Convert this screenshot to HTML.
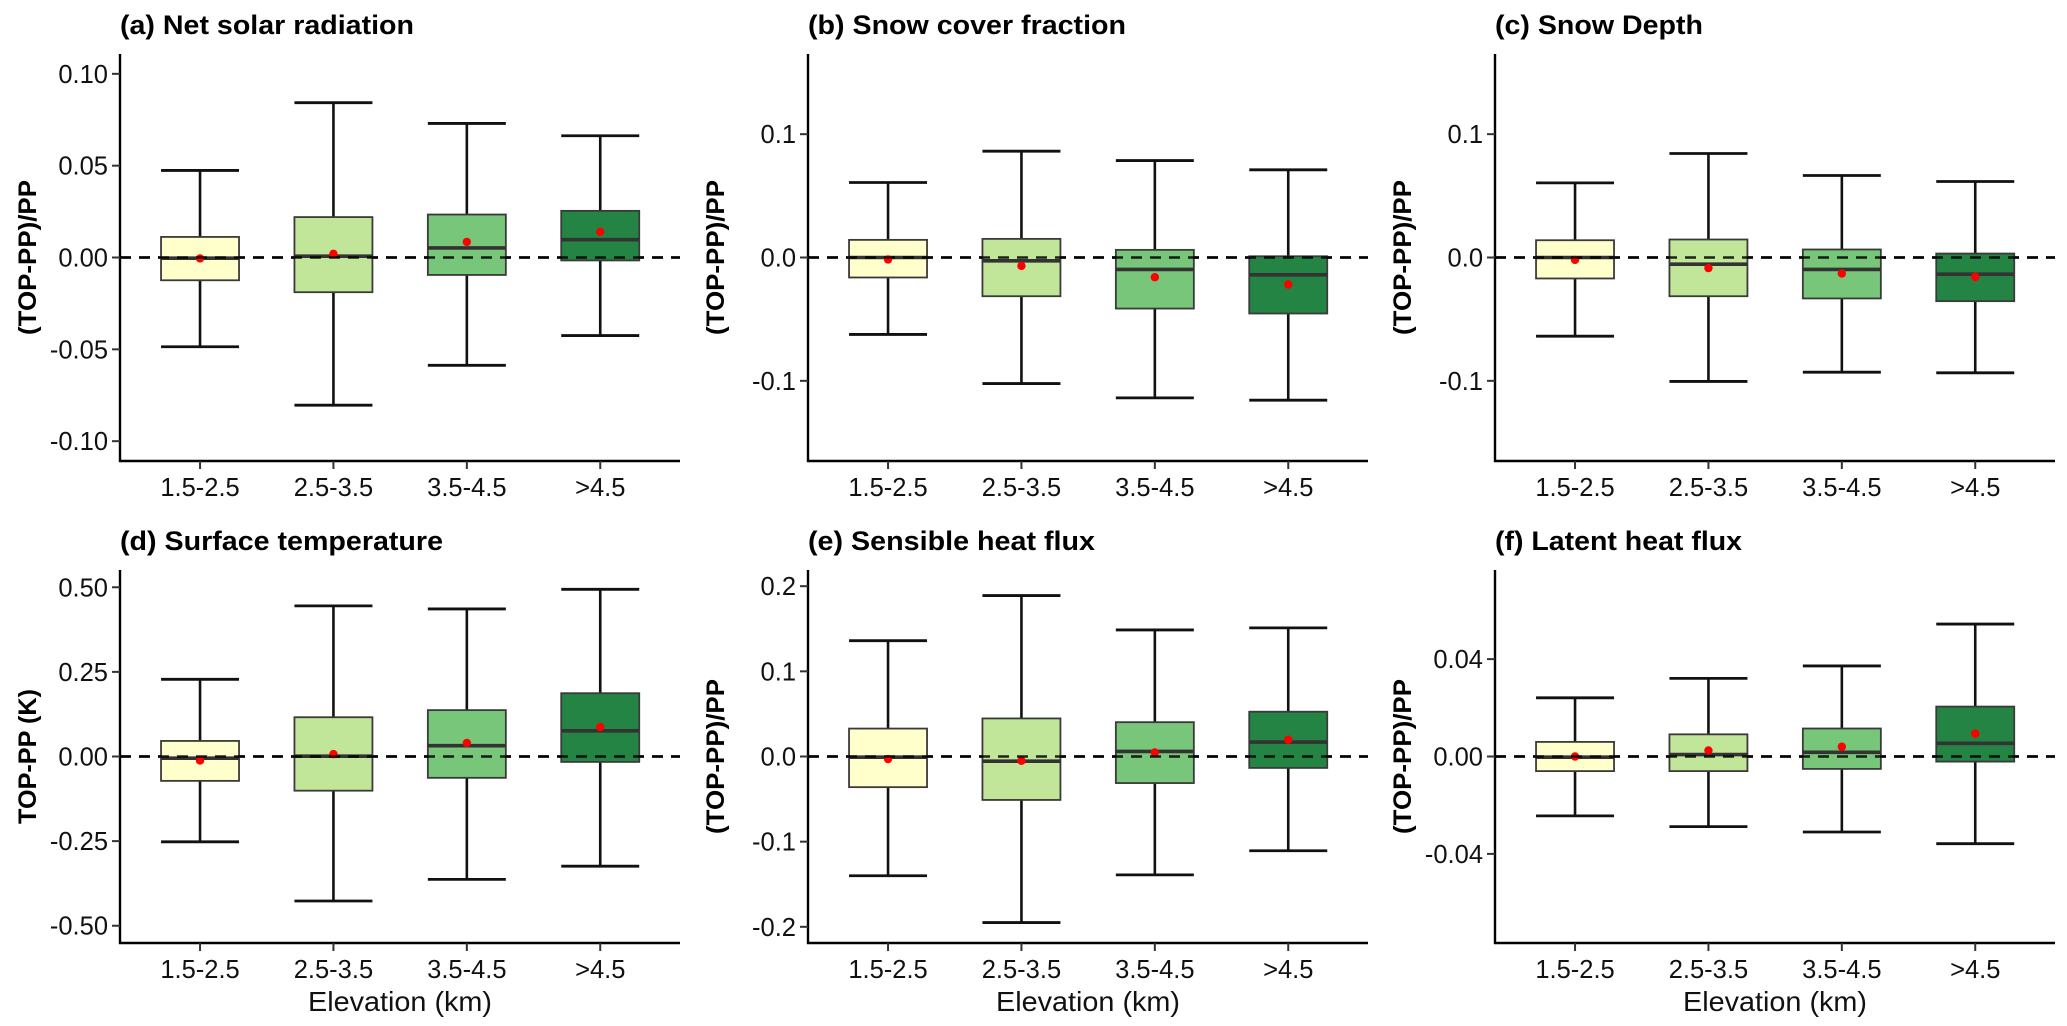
<!DOCTYPE html>
<html><head><meta charset="utf-8"><style>
html,body{margin:0;padding:0;background:#fff;}
svg{display:block;font-family:"Liberation Sans",Arial,sans-serif;}
</style></head>
<body>
<svg id="fig" width="2067" height="1026" viewBox="0 0 2067 1026" xmlns="http://www.w3.org/2000/svg"></svg>
<script>
// ---- data ----
const categories = ["1.5-2.5", "2.5-3.5", "3.5-4.5", ">4.5"];
const boxFills = ["#FFFFCC", "#C2E699", "#78C679", "#238443"];

// (a) Net solar radiation
const solarHi   = [0.0474, 0.0843, 0.073, 0.0663];
const solarQ3   = [0.0112, 0.022, 0.0234, 0.0254];
const solarMed  = [-0.0004, 0.0007, 0.0052, 0.0097];
const solarQ1   = [-0.0124, -0.0189, -0.0095, -0.0016];
const solarLo   = [-0.0486, -0.0804, -0.0587, -0.0425];
const solarMean = [-0.0005, 0.002, 0.0085, 0.014];
const solarTicks = [0.10, 0.05, 0.00, -0.05, -0.10];
const solarTickLabels = ["0.10", "0.05", "0.00", "-0.05", "-0.10"];

// (b) Snow cover fraction
const scfHi   = [0.0608, 0.0862, 0.0786, 0.0711];
const scfQ3   = [0.0143, 0.0151, 0.0062, 0.001];
const scfMed  = [0.0, -0.0027, -0.0097, -0.014];
const scfQ1   = [-0.0162, -0.0314, -0.0414, -0.0454];
const scfLo   = [-0.0624, -0.1022, -0.1138, -0.1157];
const scfMean = [-0.0016, -0.0068, -0.016, -0.0219];
const scfTicks = [0.1, 0.0, -0.1];
const scfTickLabels = ["0.1", "0.0", "-0.1"];

// (c) Snow depth
const sdHi   = [0.0605, 0.0843, 0.0665, 0.0616];
const sdQ3   = [0.014, 0.0146, 0.0065, 0.0032];
const sdMed  = [0.0, -0.0054, -0.0097, -0.0135];
const sdQ1   = [-0.017, -0.0314, -0.0332, -0.0354];
const sdLo   = [-0.0638, -0.1005, -0.093, -0.0935];
const sdMean = [-0.002, -0.0086, -0.013, -0.0157];
const sdTicks = [0.1, 0.0, -0.1];
const sdTickLabels = ["0.1", "0.0", "-0.1"];

// (d) Surface temperature
const tsHi   = [0.228, 0.445, 0.436, 0.494];
const tsQ3   = [0.046, 0.116, 0.137, 0.187];
const tsMed  = [-0.005, 0.001, 0.032, 0.076];
const tsQ1   = [-0.072, -0.101, -0.063, -0.016];
const tsLo   = [-0.252, -0.427, -0.363, -0.324];
const tsMean = [-0.012, 0.007, 0.040, 0.087];
const tsTicks = [0.50, 0.25, 0.00, -0.25, -0.50];
const tsTickLabels = ["0.50", "0.25", "0.00", "-0.25", "-0.50"];

// (e) Sensible heat flux
const shHi   = [0.136, 0.189, 0.1486, 0.151];
const shQ3   = [0.0328, 0.0447, 0.0403, 0.0526];
const shMed  = [-0.0008, -0.0055, 0.0059, 0.017];
const shQ1   = [-0.036, -0.051, -0.0312, -0.0134];
const shLo   = [-0.14, -0.195, -0.139, -0.1107];
const shMean = [-0.003, -0.005, 0.0047, 0.0198];
const shTicks = [0.2, 0.1, 0.0, -0.1, -0.2];
const shTickLabels = ["0.2", "0.1", "0.0", "-0.1", "-0.2"];

// (f) Latent heat flux
const lhHi   = [0.0241, 0.0321, 0.0372, 0.0544];
const lhQ3   = [0.006, 0.0091, 0.0115, 0.0205];
const lhMed  = [-0.0003, 0.0008, 0.0017, 0.0054];
const lhQ1   = [-0.006, -0.006, -0.0051, -0.0021];
const lhLo   = [-0.0244, -0.0288, -0.031, -0.0358];
const lhMean = [0.0, 0.0025, 0.004, 0.0094];
const lhTicks = [0.04, 0.00, -0.04];
const lhTickLabels = ["0.04", "0.00", "-0.04"];

// ---- layout ----
const panels = [
  {id:"a", title:"(a) Net solar radiation", titleW:294, ylab:"(TOP-PP)/PP", ylabW:155, x0:120, top:54, bot:461, lim:0.1108,
   hi:solarHi, q3:solarQ3, med:solarMed, q1:solarQ1, lo:solarLo, mean:solarMean, ticks:solarTicks, tl:solarTickLabels, xt:false},
  {id:"b", title:"(b) Snow cover fraction", titleW:318, ylab:"(TOP-PP)/PP", ylabW:155, x0:808, top:54, bot:461, lim:0.165,
   hi:scfHi, q3:scfQ3, med:scfMed, q1:scfQ1, lo:scfLo, mean:scfMean, ticks:scfTicks, tl:scfTickLabels, xt:false},
  {id:"c", title:"(c) Snow Depth", titleW:208, ylab:"(TOP-PP)/PP", ylabW:155, x0:1495, top:54, bot:461, lim:0.165,
   hi:sdHi, q3:sdQ3, med:sdMed, q1:sdQ1, lo:sdLo, mean:sdMean, ticks:sdTicks, tl:sdTickLabels, xt:false},
  {id:"d", title:"(d) Surface temperature", titleW:323, ylab:"TOP-PP (K)", ylabW:135, x0:120, top:570, bot:943, lim:0.551,
   hi:tsHi, q3:tsQ3, med:tsMed, q1:tsQ1, lo:tsLo, mean:tsMean, ticks:tsTicks, tl:tsTickLabels, xt:true},
  {id:"e", title:"(e) Sensible heat flux", titleW:287, ylab:"(TOP-PP)/PP", ylabW:155, x0:808, top:570, bot:943, lim:0.219,
   hi:shHi, q3:shQ3, med:shMed, q1:shQ1, lo:shLo, mean:shMean, ticks:shTicks, tl:shTickLabels, xt:true},
  {id:"f", title:"(f) Latent heat flux", titleW:247, ylab:"(TOP-PP)/PP", ylabW:155, x0:1495, top:570, bot:943, lim:0.0766,
   hi:lhHi, q3:lhQ3, med:lhMed, q1:lhQ1, lo:lhLo, mean:lhMean, ticks:lhTicks, tl:lhTickLabels, xt:true}
];

const NS = "http://www.w3.org/2000/svg";
const svg = document.getElementById("fig");
function mk(tag, attrs, parent) {
  const el = document.createElementNS(NS, tag);
  for (const k in attrs) el.setAttribute(k, attrs[k]);
  (parent || svg).appendChild(el);
  return el;
}
const STEP = 133.4, PW = 560, BW = 78;

panels.forEach(p => {
  const g = mk("g", {});
  
  
  const yS = v => p.top + (p.lim - v) / (2 * p.lim) * (p.bot - p.top);
  const xS = i => p.x0 + STEP * (0.6 + i);

  const t = mk("text", {x:p.x0, y:p.top - 20, "font-size":27, "font-weight":"bold", textLength:p.titleW, lengthAdjust:"spacingAndGlyphs"}, g);
  t.textContent = p.title;
  
  

  const zl = mk("line", {x1:p.x0, x2:p.x0 + PW, y1:yS(0), y2:yS(0), stroke:"#000", "stroke-width":2.4, "stroke-dasharray":"11 8"}, g);
  
  

  categories.forEach((c, i) => {
    const cx = xS(i);
    const bg = mk("g", {}, g);
    
    
    mk("line", {x1:cx, x2:cx, y1:yS(p.hi[i]), y2:yS(p.q3[i]), stroke:"#111", "stroke-width":2.6}, bg);
    mk("line", {x1:cx, x2:cx, y1:yS(p.q1[i]), y2:yS(p.lo[i]), stroke:"#111", "stroke-width":2.6}, bg);
    mk("line", {x1:cx - BW/2, x2:cx + BW/2, y1:yS(p.hi[i]), y2:yS(p.hi[i]), stroke:"#111", "stroke-width":2.8}, bg);
    mk("line", {x1:cx - BW/2, x2:cx + BW/2, y1:yS(p.lo[i]), y2:yS(p.lo[i]), stroke:"#111", "stroke-width":2.8}, bg);
    mk("rect", {x:cx - BW/2, y:yS(p.q3[i]), width:BW, height:yS(p.q1[i]) - yS(p.q3[i]), fill:boxFills[i], stroke:"#3a3a3a", "stroke-width":1.8}, bg);
    mk("line", {x1:cx - BW/2, x2:cx + BW/2, y1:yS(p.med[i]), y2:yS(p.med[i]), stroke:"#333", "stroke-width":3.6}, bg);
    const m = mk("circle", {cx:cx, cy:yS(p.mean[i]), r:4.2, fill:"#ff0000"}, bg);
    
    
  });
  mk("line", {x1:p.x0, x2:p.x0 + PW, y1:yS(0), y2:yS(0), stroke:"#000", "stroke-width":2.4, "stroke-dasharray":"11 8", "stroke-opacity":0.85}, g);

  const ya = mk("line", {x1:p.x0, x2:p.x0, y1:p.top, y2:p.bot + 1, stroke:"#000", "stroke-width":2.4}, g);
  
  
  const xa = mk("line", {x1:p.x0 - 1, x2:p.x0 + PW, y1:p.bot, y2:p.bot, stroke:"#000", "stroke-width":2.4}, g);
  
  

  p.ticks.forEach((v, k) => {
    const y = yS(v);
    mk("line", {x1:p.x0 - 8, x2:p.x0, y1:y, y2:y, stroke:"#333", "stroke-width":2}, g);
    const tl = mk("text", {x:p.x0 - 12, y:y + 9, "font-size":25.5, "text-anchor":"end", fill:"#111"}, g);
    tl.textContent = p.tl[k];
    
    
  });
  categories.forEach((c, i) => {
    const x = xS(i);
    mk("line", {x1:x, x2:x, y1:p.bot, y2:p.bot + 8, stroke:"#333", "stroke-width":2}, g);
    const tl = mk("text", {x:x, y:p.bot + 35, "font-size":25.5, "text-anchor":"middle", fill:"#111"}, g);
    tl.textContent = c;
    
    
  });

  const yc = (p.top + p.bot) / 2, yx = p.x0 - 93;
  const yl = mk("text", {x:0, y:0, "font-size":25, "font-weight":"bold", "text-anchor":"middle", textLength:p.ylabW, lengthAdjust:"spacingAndGlyphs",
    transform:"translate(" + (yx + 9) + "," + yc + ") rotate(-90)"}, g);
  yl.textContent = p.ylab;
  
  

  if (p.xt) {
    const xl = mk("text", {x:p.x0 + PW/2, y:p.bot + 68, "font-size":28, "text-anchor":"middle", textLength:184, lengthAdjust:"spacingAndGlyphs", fill:"#111"}, g);
    xl.textContent = "Elevation (km)";
    
    
  }
});
</script>
</body></html>
